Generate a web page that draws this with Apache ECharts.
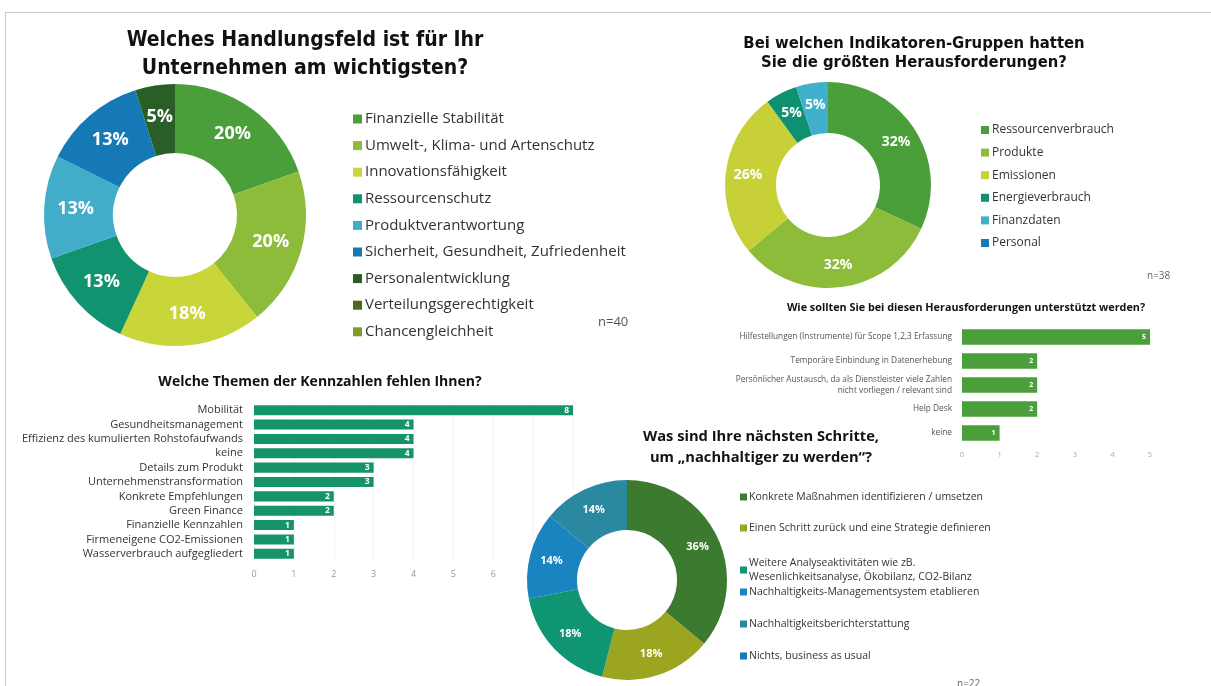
<!DOCTYPE html>
<html>
<head>
<meta charset="utf-8">
<script src="https://cdn.jsdelivr.net/npm/echarts@6/dist/echarts.min.js"></script>
<style>
html,body{margin:0;padding:0;background:#fff;}
#c{width:1211px;height:686px;}
</style>
</head>
<body>
<div id="c"></div>
<script>
// ---------- Data ----------
const handlungsfeldNames = [
  'Finanzielle Stabilität',
  'Umwelt-, Klima- und Artenschutz',
  'Innovationsfähigkeit',
  'Ressourcenschutz',
  'Produktverantwortung',
  'Sicherheit, Gesundheit, Zufriedenheit',
  'Personalentwicklung',
  'Verteilungsgerechtigkeit',
  'Chancengleichheit'
];
const handlungsfeldValues = [20, 20, 18, 13, 13, 13, 5, 0, 0];
const handlungsfeldColors = ['#4b9f3b', '#8dbb3a', '#c8d63a', '#12936f', '#41adc8', '#1479b5', '#2a5e27', '#4a6b1c', '#7f9c2a'];

const indikatorNames = ['Ressourcenverbrauch', 'Produkte', 'Emissionen', 'Energieverbrauch', 'Finanzdaten', 'Personal'];
const indikatorValues = [32, 32, 26, 5, 5, 0];
const indikatorColors = ['#4b9f3b', '#8dbb3a', '#c8d038', '#0f9070', '#40b0cc', '#1479b5'];

const schritteNames = [
  'Konkrete Maßnahmen identifizieren / umsetzen',
  'Einen Schritt zurück und eine Strategie definieren',
  'Weitere Analyseaktivitäten wie zB.\nWesenlichkeitsanalyse, Ökobilanz, CO2-Bilanz',
  'Nachhaltigkeits-Managementsystem etablieren',
  'Nachhaltigkeitsberichterstattung',
  'Nichts, business as usual'
];
const schritteValues = [36, 18, 18, 14, 14, 0];
const schritteColors = ['#3c7a30', '#9ba520', '#109572', '#1a84c0', '#2a88a0', '#1479b5'];

const themenCategories = [
  'Mobilität', 'Gesundheitsmanagement', 'Effizienz des kumulierten Rohstofaufwands', 'keine',
  'Details zum Produkt', 'Unternehmenstransformation', 'Konkrete Empfehlungen', 'Green Finance',
  'Finanzielle Kennzahlen', 'Firmeneigene CO2-Emissionen', 'Wasserverbrauch aufgegliedert'
];
const themenValues = [8, 4, 4, 4, 3, 3, 2, 2, 1, 1, 1];

const unterstuetzungCategories = [
  'Hilfestellungen (Instrumente) für Scope 1,2,3 Erfassung',
  'Temporäre Einbindung in Datenerhebung',
  'Persönlicher Austausch, da als Dienstleister viele Zahlen\nnicht vorliegen / relevant sind',
  'Help Desk',
  'keine'
];
const unterstuetzungValues = [5, 2, 2, 2, 1];

// ---------- Helpers ----------
const BODY = '"Open Sans", "Noto Sans", sans-serif';
const NARROW = '"Liberation Sans Narrow", "DejaVu Sans Condensed", sans-serif';
function pieData(names, values, colors) {
  return names.map((n, i) => ({ name: n, value: values[i], itemStyle: { color: colors[i] } }));
}
const pctLabel = p => (p.value > 0 ? p.value + '%' : '');

const chart = echarts.init(document.getElementById('c'), null, { renderer: 'canvas' });

const option = {
  animation: false,
  backgroundColor: '#ffffff',
  textStyle: { fontFamily: BODY },
  graphic: [
    { type: 'line', shape: { x1: 5, y1: 12.5, x2: 1211, y2: 12.5 }, style: { stroke: '#c8c8c8', lineWidth: 1 }, silent: true },
    { type: 'line', shape: { x1: 5.5, y1: 12, x2: 5.5, y2: 686 }, style: { stroke: '#c8c8c8', lineWidth: 1 }, silent: true },
    { type: 'text', x: 305, y: 41, style: { text: 'Welches Handlungsfeld ist für Ihr', font: 'bold 21px ' + NARROW, fill: '#111', textAlign: 'center', textVerticalAlign: 'middle' } },
    { type: 'text', x: 305, y: 69, style: { text: 'Unternehmen am wichtigsten?', font: 'bold 21px ' + NARROW, fill: '#111', textAlign: 'center', textVerticalAlign: 'middle' } },
    { type: 'text', x: 914, y: 44, style: { text: 'Bei welchen Indikatoren-Gruppen hatten', font: 'bold 16.5px ' + NARROW, fill: '#111', textAlign: 'center', textVerticalAlign: 'middle' } },
    { type: 'text', x: 914, y: 63, style: { text: 'Sie die größten Herausforderungen?', font: 'bold 16.5px ' + NARROW, fill: '#111', textAlign: 'center', textVerticalAlign: 'middle' } },
    { type: 'text', x: 966, y: 308, style: { text: 'Wie sollten Sie bei diesen Herausforderungen unterstützt werden?', font: 'bold 10.8px ' + BODY, fill: '#111', textAlign: 'center', textVerticalAlign: 'middle' } },
    { type: 'text', x: 320, y: 382, style: { text: 'Welche Themen der Kennzahlen fehlen Ihnen?', font: 'bold 14px ' + BODY, fill: '#111', textAlign: 'center', textVerticalAlign: 'middle' } },
    { type: 'text', x: 761, y: 437, style: { text: 'Was sind Ihre nächsten Schritte,', font: 'bold 14.7px ' + BODY, fill: '#111', textAlign: 'center', textVerticalAlign: 'middle' } },
    { type: 'text', x: 761, y: 458, style: { text: 'um „nachhaltiger zu werden“?', font: 'bold 14.7px ' + BODY, fill: '#111', textAlign: 'center', textVerticalAlign: 'middle' } },
    { type: 'text', x: 598, y: 322, style: { text: 'n=40', font: '13px ' + BODY, fill: '#555', textAlign: 'left', textVerticalAlign: 'middle' } },
    { type: 'text', x: 1147, y: 276, style: { text: 'n=38', font: '10px ' + BODY, fill: '#666', textAlign: 'left', textVerticalAlign: 'middle' } },
    { type: 'text', x: 957, y: 684, style: { text: 'n=22', font: '10px ' + BODY, fill: '#666', textAlign: 'left', textVerticalAlign: 'middle' } }
  ],
  legend: [
    {
      data: handlungsfeldNames, orient: 'vertical', left: 348, top: 105,
      icon: 'rect', itemWidth: 9, itemHeight: 9, itemGap: 8.6, selectedMode: false,
      textStyle: { fontSize: 15, lineHeight: 18, color: '#333', fontFamily: BODY, padding: [0, 0, 0, -2] }
    },
    {
      data: indikatorNames, orient: 'vertical', left: 976, top: 117.5,
      icon: 'rect', itemWidth: 8, itemHeight: 8, itemGap: 7.6, selectedMode: false,
      textStyle: { fontSize: 12, lineHeight: 15, color: '#333', fontFamily: BODY, padding: [0, 0, 0, -2] }
    },
    {
      data: schritteNames.slice(0, 2), orient: 'vertical', left: 735, top: 485,
      icon: 'rect', itemWidth: 7, itemHeight: 7, itemGap: 17, selectedMode: false,
      textStyle: { fontSize: 10.5, lineHeight: 14, color: '#333', fontFamily: BODY, padding: [0, 0, 0, -3] }
    },
    {
      data: schritteNames.slice(2, 3), orient: 'vertical', left: 735, top: 551,
      icon: 'rect', itemWidth: 7, itemHeight: 7, itemGap: 17, selectedMode: false,
      textStyle: { fontSize: 10.5, lineHeight: 14, color: '#333', fontFamily: BODY, padding: [0, 0, 0, -3] }
    },
    {
      data: schritteNames.slice(3), orient: 'vertical', left: 735, top: 580,
      icon: 'rect', itemWidth: 7, itemHeight: 7, itemGap: 18, selectedMode: false,
      textStyle: { fontSize: 10.5, lineHeight: 14, color: '#333', fontFamily: BODY, padding: [0, 0, 0, -3] }
    }
  ],
  grid: [
    { left: 254, top: 403, width: 319, height: 158 },
    { left: 962, top: 325, width: 188, height: 120 }
  ],
  xAxis: [
    {
      gridIndex: 0, type: 'value', min: 0, max: 8, interval: 1,
      axisLine: { show: false }, axisTick: { show: false },
      splitLine: { show: true, lineStyle: { color: '#f5f5f5' } },
      axisLabel: { color: '#999', fontSize: 9, margin: 9 }
    },
    {
      gridIndex: 1, type: 'value', min: 0, max: 5, interval: 1,
      axisLine: { show: false }, axisTick: { show: false },
      splitLine: { show: false },
      axisLabel: { color: '#aaa', fontSize: 7.5, margin: 6 }
    }
  ],
  yAxis: [
    {
      gridIndex: 0, type: 'category', data: themenCategories, inverse: true,
      axisLine: { show: false }, axisTick: { show: false },
      axisLabel: { color: '#333', fontSize: 11, margin: 11 }
    },
    {
      gridIndex: 1, type: 'category', data: unterstuetzungCategories, inverse: true,
      axisLine: { show: false }, axisTick: { show: false },
      axisLabel: { color: '#555', fontSize: 8.3, lineHeight: 11, margin: 10 }
    }
  ],
  series: [
    {
      type: 'bar', xAxisIndex: 0, yAxisIndex: 0, data: themenValues,
      barCategoryGap: '30%', itemStyle: { color: '#15946c' }, silent: true,
      label: { show: true, position: 'insideRight', distance: 4, color: '#fff', fontSize: 8.5, fontWeight: 'bold' }
    },
    {
      type: 'bar', xAxisIndex: 1, yAxisIndex: 1, data: unterstuetzungValues,
      barCategoryGap: '36%', itemStyle: { color: '#4b9f3b' }, silent: true,
      label: { show: true, position: 'insideRight', distance: 4, color: '#fff', fontSize: 7, fontWeight: 'bold' }
    },
    {
      type: 'pie', center: [175, 215], radius: [62, 131], startAngle: 90, clockwise: true,
      data: pieData(handlungsfeldNames, handlungsfeldValues, handlungsfeldColors),
      label: { show: true, position: 'inside', formatter: pctLabel, color: '#fff', fontSize: 18, fontWeight: 'bold', fontFamily: BODY },
      labelLine: { show: false }, itemStyle: { borderWidth: 0 }, silent: true, z: 5
    },
    {
      type: 'pie', center: [828, 185], radius: [52, 103], startAngle: 90, clockwise: true,
      data: pieData(indikatorNames, indikatorValues, indikatorColors),
      label: { show: true, position: 'inside', formatter: pctLabel, color: '#fff', fontSize: 14, fontWeight: 'bold', fontFamily: BODY },
      labelLine: { show: false }, itemStyle: { borderWidth: 0 }, silent: true, z: 5
    },
    {
      type: 'pie', center: [627, 580], radius: [50, 100], startAngle: 90, clockwise: true,
      data: pieData(schritteNames, schritteValues, schritteColors),
      label: { show: true, position: 'inside', formatter: pctLabel, color: '#fff', fontSize: 11, fontWeight: 'bold', fontFamily: BODY },
      labelLine: { show: false }, itemStyle: { borderWidth: 0 }, silent: true, z: 5
    }
  ]
};
chart.setOption(option);
</script>
</body>
</html>
